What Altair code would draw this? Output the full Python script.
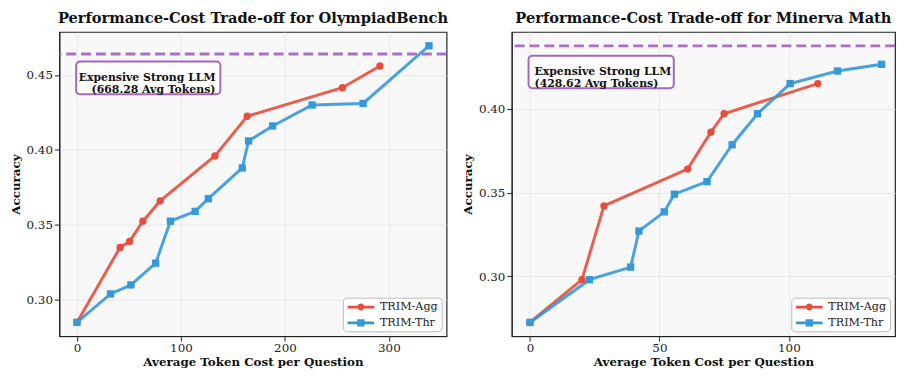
import altair as alt
import pandas as pd

FONT = "DejaVu Serif"
SERIES = ["TRIM-Agg", "TRIM-Thr"]
COLORS = ["#e74c3c", "#3498db"]
REF_COLOR = "#9b59b6"

# ---- OlympiadBench ----
ob_agg_x = [0, 41.5, 50.7, 63.4, 80.1, 132.7, 163.8, 255.3, 291.4]
ob_agg_y = [0.285, 0.335, 0.339, 0.3525, 0.366, 0.396, 0.4225, 0.4415, 0.456]
ob_thr_x = [0, 32.3, 51.9, 75.7, 89.9, 113.7, 126.4, 159.0, 165.1, 188.2, 226.2, 275.2, 338.6]
ob_thr_y = [0.285, 0.304, 0.310, 0.3245, 0.3525, 0.359, 0.3675, 0.388, 0.406, 0.416, 0.430, 0.431, 0.4695]
ob_ref_acc = 0.464
ob_ref_tokens = "668.28"

# ---- Minerva Math ----
mm_agg_x = [0, 20.1, 28.6, 60.9, 69.9, 75.0, 111.2]
mm_agg_y = [0.2725, 0.298, 0.342, 0.364, 0.386, 0.397, 0.415]
mm_thr_x = [0, 23.0, 38.9, 42.1, 51.9, 55.8, 68.4, 78.1, 87.9, 100.5, 118.8, 135.8]
mm_thr_y = [0.2725, 0.298, 0.3055, 0.327, 0.3385, 0.349, 0.3565, 0.3785, 0.397, 0.415, 0.4225, 0.4265]
mm_ref_acc = 0.4375
mm_ref_tokens = "428.62"

ob_xticks = [0, 100, 200, 300]
ob_yticks = [0.30, 0.35, 0.40, 0.45]
mm_xticks = [0, 50, 100]
mm_yticks = [0.30, 0.35, 0.40]

# custom legend symbols: line segment + marker (unit = symbol radius, 6.25px)
PATH_CIRCLE = ("M-0.75,-0.22H0.85V0.22H-0.75Z M1.95,-0.22H3.55V0.22H1.95Z "
               "M1.96,0A0.56,0.56 0 1,1 0.84,0A0.56,0.56 0 1,1 1.96,0Z")
PATH_SQUARE = ("M-0.75,-0.22H0.8V0.22H-0.75Z M2.0,-0.22H3.55V0.22H2.0Z "
               "M0.8,-0.6H2.0V0.6H0.8Z")

AXIS_STYLE = dict(labelFont=FONT, labelFontSize=12, labelColor="#222",
                  titleFont=FONT, titleFontSize=12, titleFontWeight="bold", titleColor="#111",
                  gridColor="#e4e4e4", gridWidth=0.8, domainColor="#222", domainWidth=1,
                  tickColor="#222", tickSize=5, labelPadding=2)


def panel(title, agg_x, agg_y, thr_x, thr_y, ref_acc, ref_tokens,
          xdom, ydom, xticks, yticks, box, text_align, text_pos, width, height):
    df = pd.DataFrame({
        "cost": list(agg_x) + list(thr_x),
        "acc": list(agg_y) + list(thr_y),
        "series": [SERIES[0]] * len(agg_x) + [SERIES[1]] * len(thr_x),
        "idx": list(range(len(agg_x))) + list(range(len(thr_x))),
    })
    x = alt.X("cost:Q", scale=alt.Scale(domain=xdom, nice=False, zero=False),
              axis=alt.Axis(values=xticks, title="Average Token Cost per Question",
                            titlePadding=3, **AXIS_STYLE))
    y = alt.Y("acc:Q", scale=alt.Scale(domain=ydom, nice=False, zero=False),
              axis=alt.Axis(values=yticks, format=".2f", title="Accuracy",
                            titlePadding=4, **AXIS_STYLE))
    cscale = alt.Scale(domain=SERIES, range=COLORS)

    base = alt.Chart(df)
    ref = alt.Chart(pd.DataFrame({"acc": [ref_acc]})).mark_rule(
        color=REF_COLOR, strokeWidth=3, strokeDash=[10, 5], opacity=0.85
    ).encode(y="acc:Q")
    lines = base.mark_line(strokeWidth=3, opacity=0.9).encode(
        x=x, y=y, order="idx:Q",
        color=alt.Color("series:N", scale=cscale, legend=None))
    points = base.mark_point(filled=True, opacity=1, size=55).encode(
        x=x, y=y,
        color=alt.Color("series:N", scale=cscale, legend=None),
        shape=alt.Shape("series:N", scale=alt.Scale(domain=SERIES, range=["circle", "square"]),
                        legend=None))
    leg = alt.Legend(title=None, orient="bottom-right", offset=5,
                     labelFont=FONT, labelFontSize=11.3, labelColor="#222",
                     symbolSize=156, symbolOpacity=1, symbolStrokeWidth=0,
                     fillColor="white", strokeColor="#bbbbbb", cornerRadius=4,
                     padding=3, labelOffset=21.5, rowPadding=4)
    legend_layer = base.mark_point(filled=True, opacity=0).encode(
        x=x, y=y,
        color=alt.Color("series:N", scale=cscale, legend=leg),
        shape=alt.Shape("series:N", scale=alt.Scale(domain=SERIES, range=[PATH_CIRCLE, PATH_SQUARE]),
                        legend=leg))
    bx0, bx1, by0, by1 = box
    boxlayer = alt.Chart(pd.DataFrame({"k": [0]})).mark_rect(
        fill="white", stroke=REF_COLOR, strokeWidth=2, cornerRadius=4, opacity=0.9
    ).encode(x=alt.value(bx0), x2=alt.value(bx1), y=alt.value(by0), y2=alt.value(by1))
    text = alt.Chart(pd.DataFrame({"k": [0]})).mark_text(
        text=["Expensive Strong LLM", f"({ref_tokens} Avg Tokens)"],
        align=text_align, baseline="middle", font=FONT, fontWeight="bold",
        fontSize=11, lineHeight=12.5, color="#111"
    ).encode(x=alt.value(text_pos[0]), y=alt.value(text_pos[1]))

    return alt.layer(ref, lines, points, legend_layer, boxlayer, text).resolve_scale(
        color="independent", shape="independent"
    ).properties(
        width=width, height=height,
        title=alt.TitleParams(title, font=FONT, fontSize=14.8, fontWeight="bold",
                              anchor="middle", offset=6, color="#111"))


left = panel("Performance-Cost Trade-off for OlympiadBench",
             ob_agg_x, ob_agg_y, ob_thr_x, ob_thr_y, ob_ref_acc, ob_ref_tokens,
             [-16.9, 355.5], [0.2758, 0.4787], ob_xticks, ob_yticks,
             (17, 163, 30, 63), "right", (158, 46.5), 392, 308)
right = panel("Performance-Cost Trade-off for Minerva Math",
              mm_agg_x, mm_agg_y, mm_thr_x, mm_thr_y, mm_ref_acc, mm_ref_tokens,
              [-7.0, 141.0], [0.2643, 0.4458], mm_xticks, mm_yticks,
              (17, 164, 24, 57), "left", (23, 40.5), 388, 308)

chart = alt.hconcat(left, right, spacing=11, padding=0, background="white").resolve_scale(
    color="independent", shape="independent"
).configure_legend(
    labelFont=FONT, labelFontSize=11.3
).configure_view(
    fill="#f8f8f8", stroke="#222", strokeWidth=1.2
)

chart.save("out.html", embed_options={"renderer": "svg", "actions": False})
